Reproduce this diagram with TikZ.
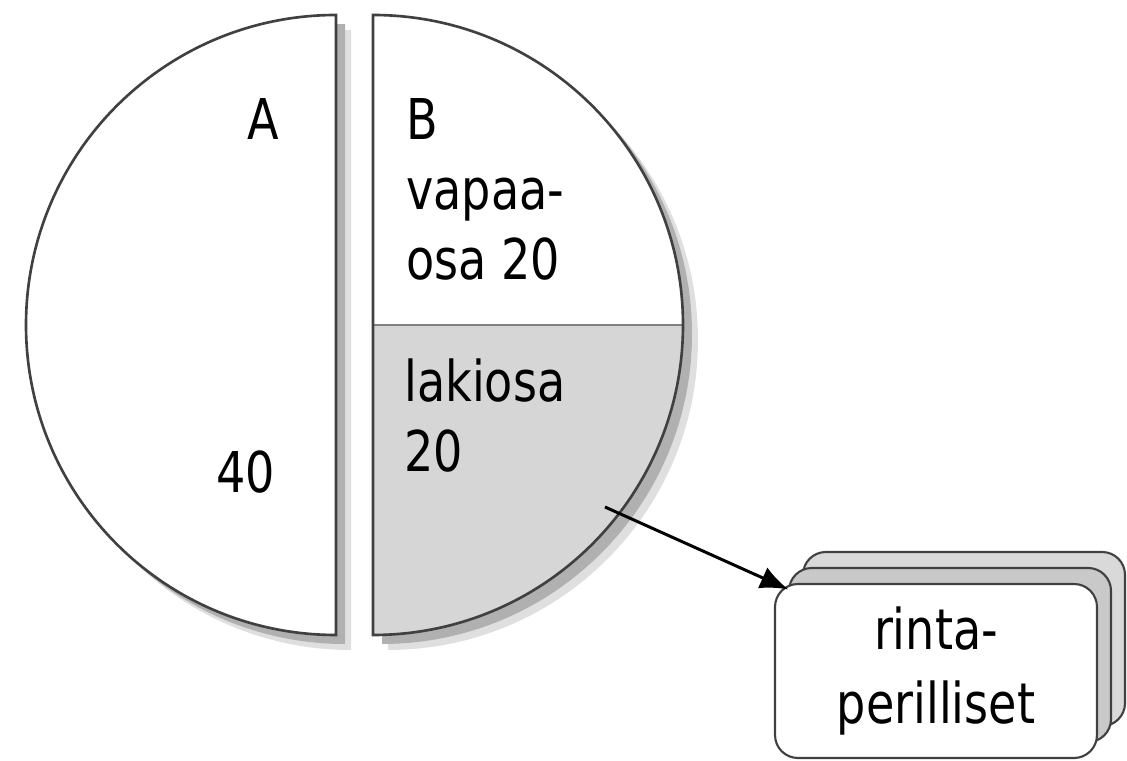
\documentclass[tikz,border=0pt]{standalone}
\usepackage{fontspec}
\setmainfont{DejaVu Sans}[FakeStretch=0.82]
\usepackage{tikz}
\usetikzlibrary{arrows.meta}
\definecolor{lakigray}{RGB}{214,214,214}
\definecolor{shadowgray}{RGB}{176,176,176}
\definecolor{edgegray}{RGB}{64,64,64}
\tikzset{
  halfdisc/.style={draw=edgegray,line width=1.5pt},
  txt/.style={font=\fontsize{32}{40}\selectfont,inner sep=0pt},
  stackbox/.style={draw=edgegray,line width=1.2pt,rounded corners=13pt},
  arr/.style={-{Latex[length=16pt,width=13pt]},line width=1.7pt},
}
\begin{document}
\begin{tikzpicture}[x=0.02cm,y=0.02cm]
\useasboundingbox (0,0) rectangle (1127,761);

% shadows
\foreach \d/\c in {15/40,9/100}{
  \fill[shadowgray!\c,shift={(\d,-\d)}] (336,746) arc[start angle=90,end angle=270,radius=310] -- cycle;
  \fill[shadowgray!\c,shift={(\d,-\d)}] (373,746) arc[start angle=90,end angle=-90,radius=310] -- cycle;
}

% A
\draw[halfdisc,fill=white] (336,746) arc[start angle=90,end angle=270,radius=310] -- cycle;
% B
\fill[white] (373,436) -- (373,746) arc[start angle=90,end angle=0,radius=310] -- cycle;
\fill[lakigray] (373,436) -- (683,436) arc[start angle=0,end angle=-90,radius=310] -- cycle;
\draw[line width=1.5pt,gray] (373,436) -- (683,436);
\draw[halfdisc] (373,746) arc[start angle=90,end angle=-90,radius=310] -- cycle;

\node[txt,anchor=base] (a) at (263,621) {A};
\node[txt,anchor=base] (forty) at (246,268) {40};
\node[txt,anchor=north west,align=left] (vapaa) at (406,663) {B\\vapaa-\\osa 20};
\node[txt,anchor=north west,align=left] (laki) at (404,403) {lakiosa\\20};

% rintaperilliset
\foreach \dx/\dy/\c in {28/32/30,14/16/42}
  \draw[stackbox,fill=gray!\c,shift={(\dx,\dy)}] (775,3) rectangle (1097,177);
\node[txt,stackbox,fill=white,align=center,font=\fontsize{32}{42}\selectfont,
  minimum width=6.44cm,minimum height=3.48cm] (rinta) at (936,90) {rinta-\\perilliset};

\coordinate (lakiend) at (605,254);
\draw[arr,shorten >=-9pt] (lakiend) -- (rinta.north west);
\end{tikzpicture}
\end{document}
